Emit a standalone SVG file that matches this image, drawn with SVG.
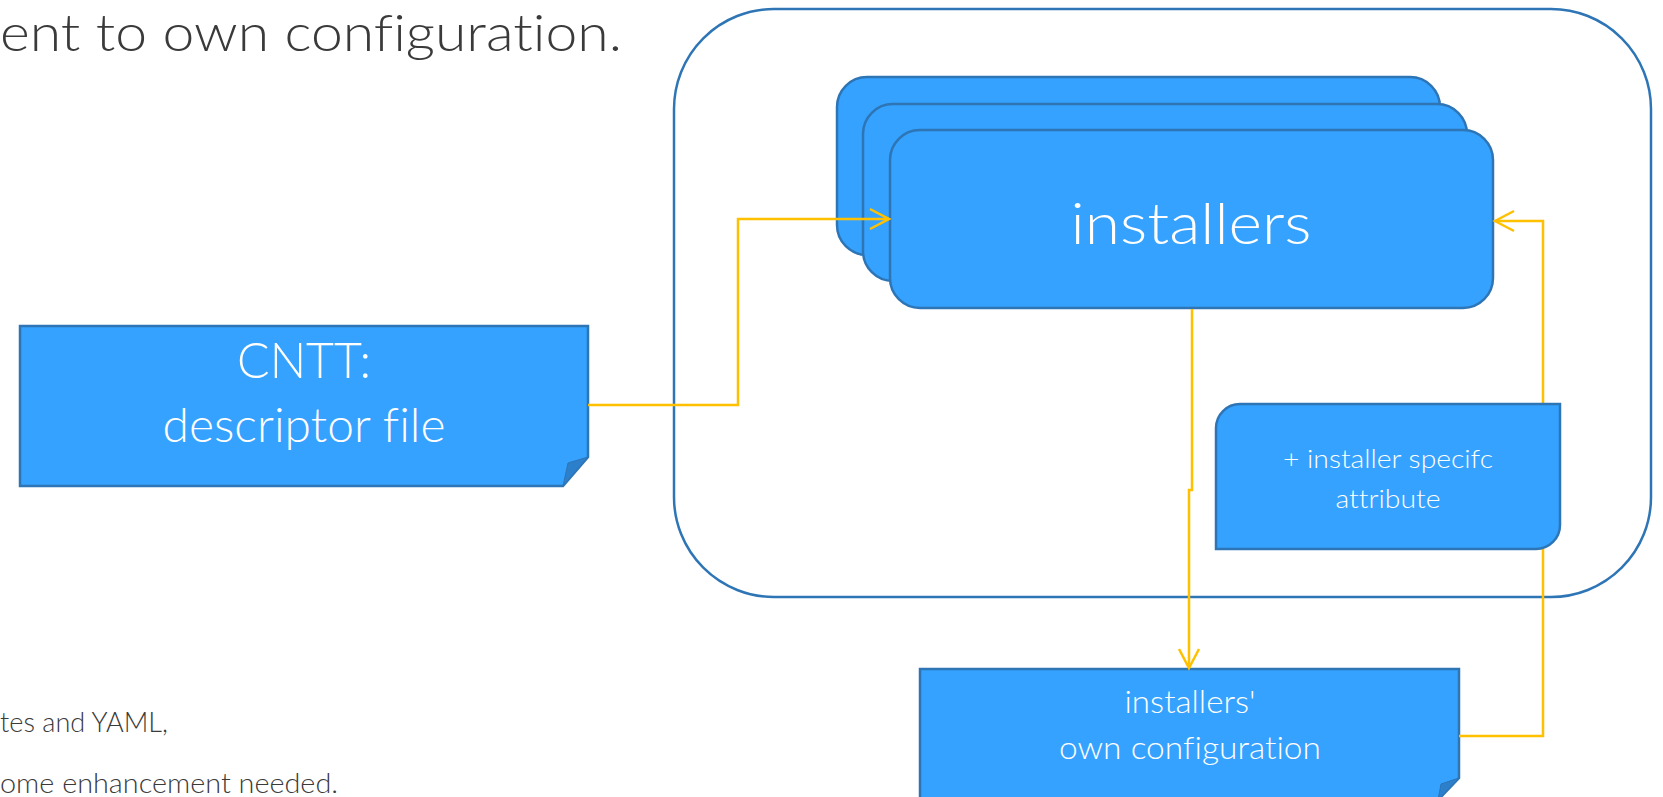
<svg xmlns="http://www.w3.org/2000/svg" width="1663" height="797" viewBox="0 0 1663 797">
<defs>
<style>
.box{fill:#35A2FF;stroke:#2E75B6;stroke-width:2.5}
.fold{fill:#2C7FCB;stroke:#2E75B6;stroke-width:1}
.cont{fill:none;stroke:#2E75B6;stroke-width:2.5}
.wire{fill:none;stroke:#FFC000;stroke-width:2.5}
text{font-variant-ligatures:none}
.wt{fill:#FFFFFF;font-family:Lato,"Open Sans","Liberation Sans",sans-serif;font-weight:300;text-anchor:middle}
.dt{fill:#3A3A3A;font-family:Lato,"Open Sans","Liberation Sans",sans-serif;font-weight:300}
</style>
<marker id="arr" viewBox="0 0 24 24" markerWidth="24" markerHeight="24" refX="21" refY="12" orient="auto" markerUnits="userSpaceOnUse">
<path d="M2,2 L21,12 L2,22" fill="none" stroke="#FFC000" stroke-width="2.5"/>
</marker>
</defs>
<rect width="1663" height="797" fill="#FFFFFF"/>
<g id="title">
<text class="dt" x="0" y="51" font-size="51" textLength="622" lengthAdjust="spacingAndGlyphs">ent to own configuration.</text>
</g>
<g id="bullets">
<text class="dt" x="0" y="732" font-size="27" textLength="168" lengthAdjust="spacingAndGlyphs">tes and YAML,</text>
<text class="dt" x="0" y="793" font-size="27" textLength="338" lengthAdjust="spacingAndGlyphs">ome enhancement needed.</text>
</g>
<g id="container">
<rect class="cont" x="674" y="9" width="977" height="588" rx="100" ry="100"/>
</g>
<g id="installers">
<rect class="box" x="837" y="77" width="603" height="178" rx="30" ry="30"/>
<rect class="box" x="863" y="104" width="604" height="177" rx="30" ry="30"/>
<rect class="box" x="890" y="130" width="603" height="178" rx="30" ry="30"/>
<text class="wt" x="1191" y="244" font-size="58" textLength="241" lengthAdjust="spacingAndGlyphs">installers</text>
</g>
<g id="cntt">
<path class="box" d="M20,326 H588 V457 L563,486 H20 Z"/>
<path class="fold" d="M588,457 L568,463 L563,486 Z"/>
<text class="wt" x="304" y="378" font-size="50" textLength="134" lengthAdjust="spacingAndGlyphs">CNTT:</text>
<text class="wt" x="304" y="442" font-size="48" textLength="283" lengthAdjust="spacingAndGlyphs">descriptor file</text>
</g>
<g id="own-config">
<path class="box" d="M920,669 H1459 V778 L1438,800 H920 Z"/>
<path class="fold" d="M1459,778 L1441,784 L1438,800 Z"/>
<text class="wt" x="1190" y="713" font-size="32" textLength="131" lengthAdjust="spacingAndGlyphs">installers'</text>
<text class="wt" x="1190" y="759" font-size="32" textLength="262" lengthAdjust="spacingAndGlyphs">own configuration</text>
</g>
<g id="connectors">
<path class="wire" d="M588,405 H738 V219 H889" marker-end="url(#arr)"/>
<path class="wire" d="M1192,309 V490 H1189 V668" marker-end="url(#arr)"/>
<path class="wire" d="M1459,736 H1543 V221 H1495" marker-end="url(#arr)"/>
</g>
<g id="attribute">
<path class="box" d="M1240,404 H1560 V525 A24,24 0 0 1 1536,549 H1216 V428 A24,24 0 0 1 1240,404 Z"/>
<text class="wt" x="1388" y="468" font-size="26" textLength="210" lengthAdjust="spacingAndGlyphs">+ installer specifc</text>
<text class="wt" x="1388" y="508" font-size="26" textLength="105" lengthAdjust="spacingAndGlyphs">attribute</text>
</g>
</svg>
